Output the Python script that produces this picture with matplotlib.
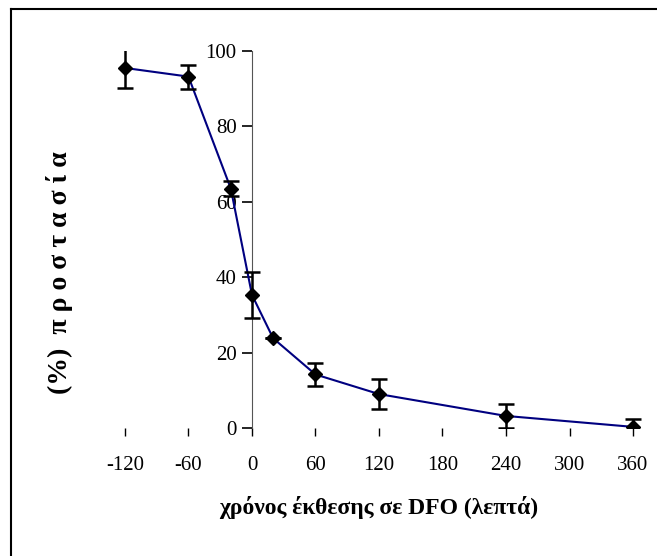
import matplotlib
matplotlib.use("Agg")
import matplotlib.pyplot as plt
from matplotlib.lines import Line2D

# data
time_min = [-120, -60, -20, 0, 20, 60, 120, 240, 360]
protection = [95.5, 93.2, 63.5, 35.3, 23.8, 14.2, 9.0, 3.2, 0.3]
error = [5.2, 3.2, 2.0, 6.2, 0.0, 3.0, 4.0, 3.2, 2.0]
x_ticks = [-120, -60, 0, 60, 120, 180, 240, 300, 360]
y_ticks = [0, 20, 40, 60, 80, 100]

plt.rcParams['font.family'] = ['Liberation Serif', 'DejaVu Serif']
plt.rcParams['axes.unicode_minus'] = False

fig = plt.figure(figsize=(6.57, 5.56), dpi=100)
ax = fig.add_axes([0.1741, 0.2302, 0.8055, 0.6781])

ax.errorbar(time_min, protection, yerr=error, fmt='none', ecolor='black',
            elinewidth=1.8, capsize=6, capthick=1.8, zorder=3)
ax.plot(time_min, protection, color='#000080', lw=1.5, zorder=2)
ax.plot(time_min, protection, 'D', color='black', markersize=7, zorder=4)

ax.set_xlim(-130, 370)
ax.set_ylim(0, 100)
ax.set_xticks(x_ticks)
ax.set_yticks(y_ticks)

for s in ['top', 'right', 'bottom']:
    ax.spines[s].set_visible(False)
ax.spines['left'].set_position(('data', 0))
ax.spines['left'].set_color('#555555')
ax.spines['left'].set_linewidth(0.8)
ax.tick_params(axis='y', direction='out', length=7, width=1.2, pad=4, labelsize=15)
ax.tick_params(axis='x', direction='out', length=6, width=1, pad=14, labelsize=15)

ax.set_xlabel('χρόνος έκθεσης σε DFO (λεπτά)', fontsize=17, fontweight='bold',
              labelpad=15)
fig.text(0.091, 0.51, '(%)  π ρ ο σ τ α σ ί α', rotation=90, fontsize=20,
         fontweight='bold', ha='center', va='center')

# frame lines (top and left only)
fig.add_artist(Line2D([11 / 657, 11 / 657], [0, 1 - 9 / 556], transform=fig.transFigure,
                      color='black', lw=1.5))
fig.add_artist(Line2D([11 / 657, 1], [1 - 9 / 556, 1 - 9 / 556], transform=fig.transFigure,
                      color='black', lw=1.5))

fig.savefig('out.png', dpi=100)
